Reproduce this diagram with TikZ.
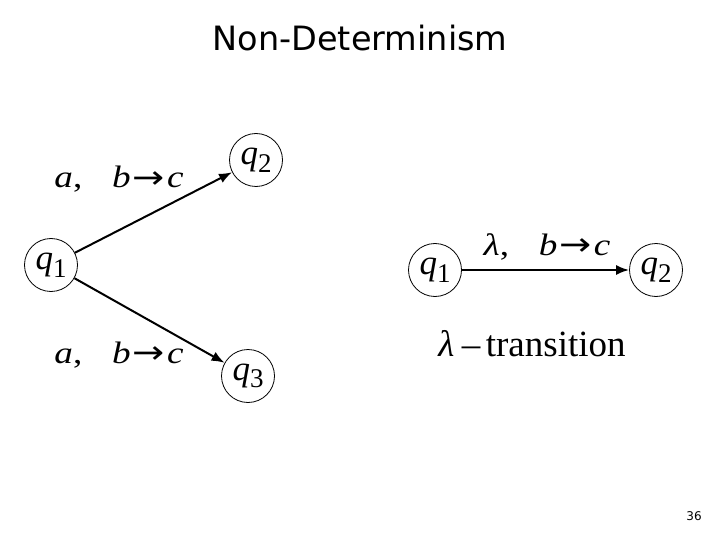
\documentclass[tikz,border=0pt]{standalone}
\usepackage{fontspec}
\setmainfont{Liberation Serif}
\newfontfamily\titlefont{DejaVu Sans}
\newfontfamily\arrfont{DejaVu Sans}
\usetikzlibrary{arrows.meta}
\newcommand{\qsub}[2]{\textit{#1}\raisebox{-0.22em}{\fontsize{27}{29}\selectfont #2}}
\newcommand{\arr}{\raisebox{-0.02em}{\arrfont\fontsize{32}{34}\selectfont →}}
\newcommand{\trlabel}[3]{\scalebox{1.2}[1]{\textit{#1},\hspace{0.8em}\textit{#2}\hspace{0.06em}\arr\hspace{0.05em}\textit{#3}}}
\tikzset{
  state/.style={draw, circle, line width=0.8pt, minimum size=53pt, inner sep=0pt, font=\fontsize{35}{37}\selectfont},
  trans/.style={line width=2pt, -{Latex[length=13pt,width=10pt]}},
  lbl/.style={font=\fontsize{31}{33}\selectfont, inner sep=0pt, anchor=base}
}
\begin{document}
\begin{tikzpicture}[x=1pt,y=-1pt]
\useasboundingbox (0,0) rectangle (720,540);
\node[font=\titlefont\fontsize{33.5}{36}\selectfont] (title) at (360,38) {Non-Determinism};
\node[state] (a1) at (51,265) {\qsub{q}{1}};
\node[state] (a2) at (256,160) {\qsub{q}{2}};
\node[state] (a3) at (248,376) {\qsub{q}{3}};
\draw[trans] (a1) -- (a2);
\draw[trans] (a1) -- (a3);
\node[lbl] (l1) at (119,188) {\trlabel{a}{b}{c}};
\node[lbl] (l2) at (119,363) {\trlabel{a}{b}{c}};
\node[state] (b1) at (435,270) {\qsub{q}{1}};
\node[state] (b2) at (656,270) {\qsub{q}{2}};
\draw[trans] (b1) -- (b2);
\node[lbl] (l3) at (547,255) {\trlabel{λ}{b}{c}};
\node[lbl,font=\fontsize{37}{39}\selectfont] (l4) at (532,356) {\textit{λ}\hspace{0.2em}–\hspace{0.15em}transition};
\node[font=\titlefont\fontsize{12}{14}\selectfont] (pg) at (694,516) {36};
\end{tikzpicture}
\end{document}
